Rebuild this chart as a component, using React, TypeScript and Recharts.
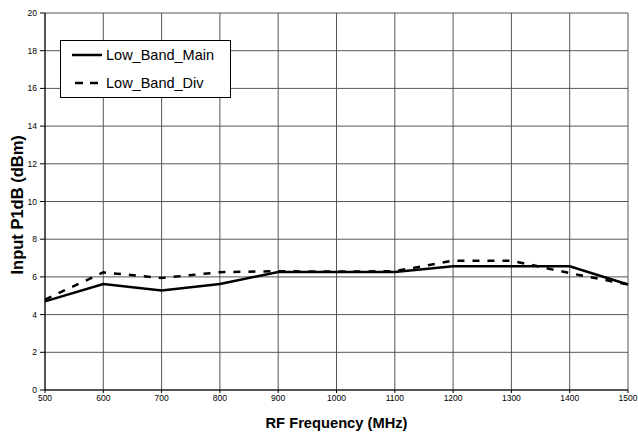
import React from 'react';
import { LineChart, Line, XAxis, YAxis, CartesianGrid } from 'recharts';

const frequencies = [500, 600, 700, 800, 900, 1000, 1100, 1200, 1300, 1400, 1500];
const lowBandMain = [4.7, 5.62, 5.28, 5.62, 6.26, 6.26, 6.26, 6.56, 6.56, 6.56, 5.6];
const lowBandDiv = [4.8, 6.24, 5.94, 6.25, 6.3, 6.28, 6.3, 6.86, 6.86, 6.2, 5.6];
const xTicks = [500, 600, 700, 800, 900, 1000, 1100, 1200, 1300, 1400, 1500];
const yTicks = [0, 2, 4, 6, 8, 10, 12, 14, 16, 18, 20];
const seriesNames = ['Low_Band_Main', 'Low_Band_Div'];

const data = frequencies.map((f, i) => ({ f, main: lowBandMain[i], div: lowBandDiv[i] }));

const font = '"Liberation Sans", Arial, sans-serif';

const LegendBox = () => (
  <svg width={171} height={58} style={{ position: 'absolute', left: 60, top: 40 }}>
    <rect x={0.5} y={0.5} width={170} height={57} fill="#fff" stroke="#000" strokeWidth={1} />
    <line x1={12} x2={42} y1={15} y2={15} stroke="#000" strokeWidth={2.5} />
    <line x1={15} x2={38} y1={43} y2={43} stroke="#000" strokeWidth={2.5} strokeDasharray="8 7" />
    <text x={46} y={20} fontFamily={font} fontSize={14.5} fill="#000">{seriesNames[0]}</text>
    <text x={46} y={48} fontFamily={font} fontSize={14.5} fill="#000">{seriesNames[1]}</text>
  </svg>
);

export default function App() {
  return (
    <div style={{ position: 'absolute', left: 0, top: 0, width: 638, height: 436, background: '#fff' }}>
      <LineChart
        width={638}
        height={436}
        data={data}
        margin={{ top: 13, right: 10, bottom: 0, left: 0 }}
        style={{ fontFamily: font }}
      >
        <CartesianGrid stroke="#555" strokeWidth={1} vertical horizontal />
        <XAxis
          dataKey="f"
          type="number"
          domain={[500, 1500]}
          ticks={xTicks}
          interval={0}
          height={46}
          tickSize={3}
          tickMargin={2}
          stroke="#000"
          tick={{ fill: '#000', fontSize: 8.5, fontFamily: font }}
          label={{
            value: 'RF Frequency (MHz)',
            position: 'insideBottom',
            offset: 8,
            style: { fontSize: 14.7, fontWeight: 'bold', fill: '#000', fontFamily: font },
          }}
        />
        <YAxis
          type="number"
          domain={[0, 20]}
          ticks={yTicks}
          interval={0}
          width={45}
          tickSize={5}
          tickMargin={3}
          stroke="#000"
          tick={{ fill: '#000', fontSize: 8.5, fontFamily: font }}
          label={{
            value: 'Input P1dB (dBm)',
            angle: -90,
            position: 'insideLeft',
            offset: 17,
            dy: 73,
            style: { fontSize: 16.5, fontWeight: 'bold', fill: '#000', fontFamily: font },
          }}
        />
        <Line
          type="linear"
          dataKey="main"
          name={seriesNames[0]}
          stroke="#000"
          strokeWidth={2.5}
          dot={false}
          isAnimationActive={false}
        />
        <Line
          type="linear"
          dataKey="div"
          name={seriesNames[1]}
          stroke="#000"
          strokeWidth={2.5}
          strokeDasharray="7 8"
          dot={false}
          isAnimationActive={false}
        />
      </LineChart>
      <LegendBox />
    </div>
  );
}
